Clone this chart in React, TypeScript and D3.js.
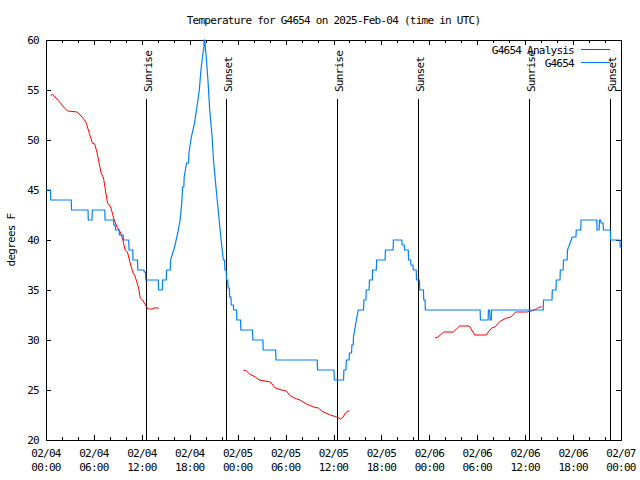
import React, { useEffect, useRef } from 'react';
import * as d3 from 'd3';

// hours after 2025-02-04 00:00 UTC
const obsHours = [0, 0.6, 3.2, 5.3, 5.8, 7.4, 8.5, 8.7, 9.2, 9.7, 10.4, 10.9, 11.5, 12.3, 12.5, 14.1, 14.6, 15.1, 15.6, 16.1,
  16.5, 16.8, 17.0, 17.1, 17.3, 17.6, 17.9, 18.2, 18.6, 18.9, 19.2, 19.4, 19.7, 19.8, 19.9, 20.1, 20.3, 20.5, 20.8, 21.0,
  21.2, 21.4, 21.6, 21.8, 22.0, 22.2, 22.4, 22.6, 22.8, 23.0, 23.2, 23.5, 23.9, 24.4, 25.9, 27.2, 28.8, 34.0, 36.1, 37.3,
  37.6, 38.0, 38.3, 38.5, 38.8, 39.1, 39.8, 40.1, 40.5, 40.9, 41.4, 42.5, 43.5, 44.6, 44.9, 45.4, 45.7, 46.0, 46.4, 46.8,
  47.3, 47.5, 54.4, 55.4, 55.6, 55.8, 62.3, 63.4, 63.9, 64.4, 64.8, 65.3, 65.9, 66.4, 67.0, 69.0, 69.3, 69.5, 69.8, 70.7,
  71.9, 72.0];
const obsTemps = [45, 44, 43, 42, 43, 42, 41.5, 41, 40.5, 40, 39, 38, 37, 36.8, 36, 35, 36, 37, 38, 39.3,
  40.7, 42, 43.7, 45.3, 46.3, 47.7, 48.7, 50.3, 51.7, 53.3, 55, 57, 59, 60, 59.7, 58, 55.7, 53, 50.3, 47.7,
  46, 44.3, 42.7, 41, 39.5, 38, 37, 36, 35.2, 34.3, 33.5, 33, 32, 31, 30, 29, 28, 27, 26, 27,
  28, 28.7, 29.5, 30.3, 31.7, 33, 34, 35, 36, 37, 38, 39, 40, 39.5, 39, 38, 37.5, 37, 36, 35,
  34, 33, 32, 33, 32, 33, 34, 35, 36, 37, 38, 39, 40.3, 41, 42, 41, 42, 41.7, 41, 40,
  39.3, 39.3];

// null marks a gap in the analysis series
const analysisHours = [0.6, 0.8, 1.8, 2.2, 2.7, 3.9, 4.5, 5.0, 5.3, 5.8, 6.1, 6.4, 6.9, 7.2, 7.6, 7.7, 8.1, 8.5, 8.9, 9.3,
  9.6, 9.9, 10.2, 10.5, 10.9, 11.1, 11.6, 11.8, 12.1, 12.6, 12.8, 13.4, 13.5, 14.1, null,
  24.7, 25.1, 25.5, 26.2, 26.7, 28.1, 28.7, 29.5, 30.1, 30.6, 31.1, 31.8, 32.6, 33.5, 34.1, 34.7, 35.6, 36.4, 36.9, 37.2,
  37.5, 37.8, 38.0, null,
  48.7, 49.1, 49.8, 51.0, 51.8, 53.0, 53.7, 55.1, 55.8, 56.2, 56.9, 57.7, 58.2, 58.8, 60.2, 60.8, 61.4, 61.8, 62.1];
const analysisTemps = [54.4, 54.6, 53.7, 53.3, 52.9, 52.8, 52.3, 51.8, 51, 49.7, 49.6, 48.7, 46.7, 46.2, 44.2, 43.7, 43.3, 42.1, 41.3, 40.8,
  40.1, 39, 38.8, 37.8, 36.7, 36.5, 35.2, 34.2, 34, 33.3, 33.1, 33.1, 33.2, 33.2, null,
  27, 26.9, 26.6, 26.3, 26, 25.8, 25.2, 25, 24.9, 24.4, 24.2, 24, 23.6, 23.3, 23.2, 22.8, 22.5, 22.3, 22.1, 22.3,
  22.7, 22.9, 22.9, null,
  30.2, 30.3, 30.8, 30.8, 31.4, 31.4, 30.5, 30.5, 31.2, 31.3, 31.9, 32.2, 32.3, 32.8, 32.8, 32.9, 33.1, 33.3, 33.3];

const sunLabels = ['Sunrise', 'Sunset', 'Sunrise', 'Sunset', 'Sunrise', 'Sunset'];
const sunTimes = ['2025-02-04T12:34Z', '2025-02-04T22:35Z', '2025-02-05T12:29Z', '2025-02-05T22:37Z', '2025-02-06T12:31Z', '2025-02-06T22:40Z'];

const yTicks = [20, 25, 30, 35, 40, 45, 50, 55, 60];
const legendNames = ['G4654 Analysis', 'G4654'];
const legendColors = ['#ff0000', '#0080ff'];

const startTime = Date.UTC(2025, 1, 4, 0, 0);
const endTime = Date.UTC(2025, 1, 7, 0, 0);
const toDate = (h: number) => new Date(startTime + h * 3600 * 1000);

const FONT = "'DejaVu Sans Mono', monospace";

const App: React.FC = () => {
  const svgRef = useRef<SVGSVGElement>(null);

  useEffect(() => {
    if (!svgRef.current) return;
    const width = 640;
    const height = 480;
    const margin = { top: 40, right: 19, bottom: 40, left: 46 };
    const x0 = margin.left, x1 = width - margin.right;
    const y0 = margin.top, y1 = height - margin.bottom;

    const svg = d3.select(svgRef.current);
    svg.selectAll('*').remove();
    svg.attr('width', width).attr('height', height);

    svg.append('rect').attr('width', width).attr('height', height).attr('fill', '#fff');

    const x = d3.scaleUtc().domain([new Date(startTime), new Date(endTime)]).range([x0, x1]);
    const y = d3.scaleLinear().domain([20, 60]).range([y1, y0]);

    const text = (sel: any) => sel
      .attr('font-family', FONT)
      .attr('font-size', 11)
      .attr('letter-spacing', -0.75)
      .attr('fill', '#000');

    // frame
    svg.append('rect')
      .attr('x', x0 + 0.5).attr('y', y0 + 0.5)
      .attr('width', x1 - x0).attr('height', y1 - y0)
      .attr('fill', 'none').attr('stroke', '#000').attr('stroke-width', 1)
      .attr('shape-rendering', 'crispEdges');

    const ticks = svg.append('g').attr('stroke', '#000').attr('shape-rendering', 'crispEdges');

    // x ticks: major every 6h, minor every 2h, mirrored on top
    const minorX = d3.utcHour.every(2)!.range(new Date(startTime), new Date(endTime + 1));
    minorX.forEach(d => {
      const major = d.getUTCHours() % 6 === 0;
      const len = major ? 5 : 3;
      const px = Math.round(x(d)) + 0.5;
      ticks.append('line').attr('x1', px).attr('x2', px).attr('y1', y1).attr('y2', y1 - len);
      ticks.append('line').attr('x1', px).attr('x2', px).attr('y1', y0).attr('y2', y0 + len);
    });

    // y ticks, mirrored on right
    yTicks.forEach(v => {
      const py = Math.round(y(v)) + 0.5;
      ticks.append('line').attr('x1', x0).attr('x2', x0 + 5).attr('y1', py).attr('y2', py);
      ticks.append('line').attr('x1', x1).attr('x2', x1 - 5).attr('y1', py).attr('y2', py);
    });

    // y tick labels
    svg.append('g').selectAll('text')
      .data(yTicks)
      .enter()
      .append('text')
      .call(text)
      .attr('x', 39)
      .attr('y', d => y(d) + 4)
      .attr('text-anchor', 'end')
      .text(d => String(d));

    // x tick labels
    const majorX = d3.utcHour.every(6)!.range(new Date(startTime), new Date(endTime + 1));
    const fmtDay = d3.utcFormat('%m/%d');
    const fmtTime = d3.utcFormat('%H:%M');
    const xl = svg.append('g');
    majorX.forEach(d => {
      xl.append('text').call(text).attr('x', x(d)).attr('y', 457).attr('text-anchor', 'middle').text(fmtDay(d));
      xl.append('text').call(text).attr('x', x(d)).attr('y', 471).attr('text-anchor', 'middle').text(fmtTime(d));
    });

    // title and axis label
    svg.append('text').call(text)
      .attr('x', (x0 + x1) / 2).attr('y', 24)
      .attr('text-anchor', 'middle')
      .text('Temperature for G4654 on 2025-Feb-04 (time in UTC)');

    svg.append('text').call(text)
      .attr('transform', `translate(15,${(y0 + y1) / 2}) rotate(-90)`)
      .attr('text-anchor', 'middle')
      .text('degrees F');

    // legend
    legendNames.forEach((name, i) => {
      const ly = 50 + i * 12.5;
      svg.append('text').call(text)
        .attr('x', 574).attr('y', ly + 4)
        .attr('text-anchor', 'end')
        .text(name);
      svg.append('line')
        .attr('x1', 581).attr('x2', 610)
        .attr('y1', Math.round(ly) - 0.5).attr('y2', Math.round(ly) - 0.5)
        .attr('stroke', legendColors[i]).attr('stroke-width', 1)
        .attr('shape-rendering', 'crispEdges');
    });

    // sunrise / sunset markers
    sunTimes.forEach((t, i) => {
      const px = Math.round(x(new Date(t))) + 0.5;
      svg.append('line')
        .attr('x1', px).attr('x2', px)
        .attr('y1', 99).attr('y2', y1)
        .attr('stroke', '#000').attr('stroke-width', 1)
        .attr('shape-rendering', 'crispEdges');
      svg.append('text').call(text)
        .attr('transform', `translate(${px + 5.5},92) rotate(-90)`)
        .attr('text-anchor', 'start')
        .text(sunLabels[i]);
    });

    // series
    const clip = svg.append('defs').append('clipPath').attr('id', 'plot-clip');
    clip.append('rect').attr('x', x0).attr('y', y0 - 1).attr('width', x1 - x0 + 1).attr('height', y1 - y0 + 2);

    const analysis = analysisHours.map((h, i) => ({ h, v: analysisTemps[i] }));
    const analysisLine = d3.line<{ h: number | null; v: number | null }>()
      .defined(d => d.h !== null && d.v !== null)
      .x(d => x(toDate(d.h as number)))
      .y(d => y(d.v as number));

    svg.append('path')
      .datum(analysis)
      .attr('clip-path', 'url(#plot-clip)')
      .attr('d', analysisLine)
      .attr('fill', 'none')
      .attr('stroke', legendColors[0])
      .attr('stroke-width', 1);

    // observations: small changes hold the previous reading until the next one
    // (stair steps), big jumps during fast warming/cooling are drawn straight
    const obs: { h: number; v: number }[] = [];
    obsHours.forEach((h, i) => {
      if (i > 0 && Math.abs(obsTemps[i] - obsTemps[i - 1]) < 1.2) {
        obs.push({ h: h - 0.04, v: obsTemps[i - 1] });
      }
      obs.push({ h, v: obsTemps[i] });
    });
    const obsLine = d3.line<{ h: number; v: number }>()
      .x(d => x(toDate(d.h)))
      .y(d => y(d.v));

    svg.append('path')
      .datum(obs)
      .attr('clip-path', 'url(#plot-clip)')
      .attr('d', obsLine)
      .attr('fill', 'none')
      .attr('stroke', legendColors[1])
      .attr('stroke-width', 1.2);
  }, []);

  return (
    <svg ref={svgRef} style={{ position: 'absolute', left: 0, top: 0 }}></svg>
  );
};

export default App;
